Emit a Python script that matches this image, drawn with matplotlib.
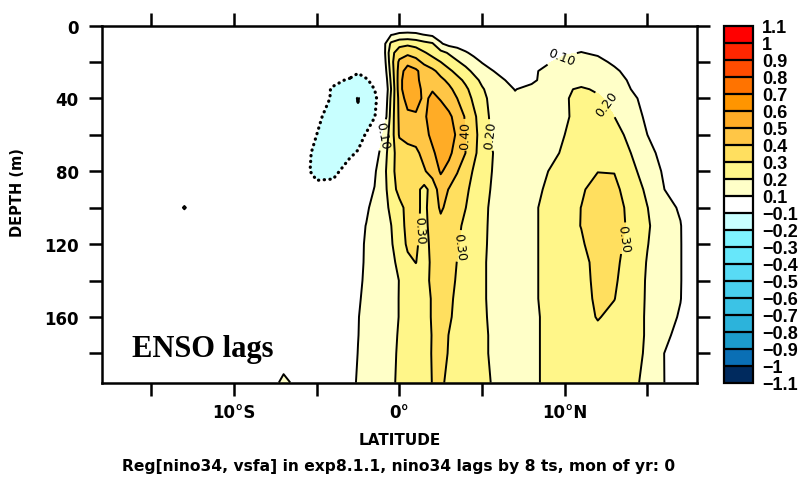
import matplotlib
matplotlib.use("Agg")
import matplotlib.pyplot as plt
import numpy as np

# grid: latitude columns (deg, S negative) and depth rows (m)
lat_west = [-18, -17, -16, -15, -14, -13, -12, -11, -10, -9, -8, -7, -6, -5, -4]
lat_core = [-3, -2.5, -2, -1.5, -1, -0.5, 0, 0.5, 1, 1.5, 2, 2.5, 3, 3.5, 4, 4.5, 5, 5.5, 6]
lat_east = [7, 8, 9, 10, 11, 12, 13, 14, 15, 16, 17, 18]
depths = [0, 5, 10, 15, 20, 25, 30, 35, 40, 50, 60, 70, 80, 90, 100,
          110, 120, 130, 140, 150, 160, 170, 180, 196]

# regression coefficients, one row per depth
reg_west = [
    [0, 0, 0, 0, 0, 0, 0, 0, 0, 0, 0, 0, 0, 0, 0],
    [0, 0, 0, 0, 0, 0, 0, 0, 0, 0, 0, 0, 0, 0, 0],
    [0, 0, 0, 0, 0, 0, 0, 0, 0, 0, 0, 0, 0, 0, 0],
    [0, 0, 0, 0, 0, 0, 0, 0, 0, 0, 0, 0, 0, 0, 0],
    [0, 0, 0, 0, 0, 0, 0, 0, 0, 0, 0, 0, 0, 0, -0.01],
    [0, 0, 0, 0, 0, 0, 0, 0, 0, 0, 0, 0, 0, -0.01, -0.03],
    [0, 0, 0, 0, 0, 0, 0, 0, 0, 0, 0, 0, -0.01, -0.03, -0.08],
    [0, 0, 0, 0, 0, 0, 0, 0, 0, 0, 0, 0, -0.02, -0.05, -0.11],
    [0, 0, 0, 0, 0, 0, 0, 0, 0, 0, 0, 0, -0.02, -0.06, -0.11],
    [0, 0, 0, 0, 0, 0, 0, 0, 0, 0, 0, -0.01, -0.03, -0.08, -0.14],
    [0, 0, 0, 0, 0, 0, 0, 0, 0, 0, 0, -0.01, -0.04, -0.10, -0.16],
    [0, 0, 0, 0, 0, 0, 0, 0, 0, 0, 0, -0.02, -0.06, -0.12, -0.15],
    [0, 0, 0, 0, 0, 0, 0, 0, 0, 0, 0, -0.02, -0.07, -0.12, -0.13],
    [0, 0, 0, 0, 0, 0, 0, 0, 0, 0, 0, -0.01, -0.04, -0.08, -0.06],
    [0, 0, 0, 0, 0, 0.11, 0, 0, 0, 0, 0, 0, -0.02, -0.03, -0.02],
    [0, 0, 0, 0, 0, 0, 0, 0, 0, 0, 0, 0, 0, 0, 0.01],
    [0, 0, 0, 0, 0, 0, 0, 0, 0, 0, 0, 0, 0, 0.01, 0.02],
    [0, 0, 0, 0, 0, 0, 0, 0, 0, 0, 0, 0, 0, 0.01, 0.03],
    [0, 0, 0, 0, 0, 0, 0, 0, 0, 0, 0, 0, 0, 0.01, 0.03],
    [0, 0, 0, 0, 0, 0, 0, 0, 0, 0, 0, 0, 0, 0.01, 0.03],
    [0, 0, 0, 0, 0, 0, 0, 0, 0, 0, 0, 0, 0, 0.015, 0.035],
    [0, 0, 0, 0, 0, 0, 0, 0, 0, 0, 0, 0, 0, 0.015, 0.035],
    [0, 0, 0, 0, 0, 0, 0, 0, 0, 0, 0, 0, 0, 0.015, 0.035],
    [0, 0, 0, 0, 0, 0, 0, 0, 0, 0, 0, 0.14, 0.04, 0.02, 0.04],
]
reg_core = [
    [0, 0, 0, 0, 0.01, 0.02, 0.03, 0.03, 0.03, 0.03, 0.02, 0.02, 0.02, 0.02, 0.02, 0.01, 0.01, 0.01, 0.01],
    [0, 0, 0.01, 0.02, 0.05, 0.095, 0.115, 0.12, 0.115, 0.098, 0.08, 0.06, 0.05, 0.04, 0.04, 0.03, 0.03, 0.03, 0.03],
    [0, 0.01, 0.02, 0.03, 0.05, 0.22, 0.27, 0.28, 0.26, 0.23, 0.21, 0.11, 0.07, 0.06, 0.05, 0.05, 0.04, 0.04, 0.04],
    [0, 0.01, 0.02, 0.03, 0.036, 0.27, 0.35, 0.38, 0.36, 0.31, 0.27, 0.23, 0.19, 0.15, 0.11, 0.08, 0.06, 0.05, 0.05],
    [-0.02, -0.03, -0.02, 0, 0.02, 0.26, 0.42, 0.46, 0.43, 0.38, 0.34, 0.3, 0.25, 0.21, 0.17, 0.13, 0.095, 0.07, 0.06],
    [-0.06, -0.09, -0.06, -0.03, 0, 0.24, 0.44, 0.56, 0.52, 0.45, 0.42, 0.37, 0.32, 0.27, 0.23, 0.18, 0.14, 0.11, 0.085],
    [-0.11, -0.13, -0.11, -0.07, -0.03, 0.22, 0.45, 0.6, 0.53, 0.45, 0.45, 0.42, 0.38, 0.33, 0.28, 0.23, 0.18, 0.15, 0.12],
    [-0.15, -0.16, -0.14, -0.1, -0.05, 0.2, 0.45, 0.6, 0.56, 0.46, 0.49, 0.46, 0.42, 0.37, 0.32, 0.26, 0.21, 0.17, 0.13],
    [-0.17, -0.203, -0.16, -0.12, -0.04, 0.22, 0.43, 0.55, 0.56, 0.47, 0.53, 0.49, 0.45, 0.4, 0.35, 0.28, 0.23, 0.18, 0.15],
    [-0.18, -0.19, -0.17, -0.105, -0.01, 0.24, 0.42, 0.47, 0.48, 0.48, 0.56, 0.57, 0.52, 0.46, 0.39, 0.32, 0.25, 0.19, 0.16],
    [-0.17, -0.15, -0.09, -0.02, 0.1, 0.25, 0.41, 0.43, 0.44, 0.46, 0.53, 0.58, 0.56, 0.48, 0.4, 0.33, 0.26, 0.2, 0.17],
    [-0.12, -0.09, -0.03, 0.05, 0.14, 0.26, 0.35, 0.37, 0.38, 0.43, 0.48, 0.55, 0.52, 0.46, 0.4, 0.32, 0.26, 0.21, 0.18],
    [-0.05, -0.01, 0.04, 0.09, 0.15, 0.28, 0.33, 0.35, 0.36, 0.39, 0.44, 0.51, 0.47, 0.405, 0.35, 0.29, 0.25, 0.205, 0.18],
    [0, 0.04, 0.08, 0.102, 0.14, 0.27, 0.32, 0.34, 0.33, 0.27, 0.34, 0.45, 0.395, 0.36, 0.32, 0.27, 0.23, 0.2, 0.18],
    [0.04, 0.07, 0.09, 0.12, 0.16, 0.22, 0.28, 0.32, 0.33, 0.27, 0.36, 0.41, 0.38, 0.34, 0.302, 0.26, 0.23, 0.19, 0.17],
    [0.06, 0.08, 0.102, 0.13, 0.16, 0.198, 0.27, 0.32, 0.325, 0.27, 0.34, 0.38, 0.36, 0.32, 0.28, 0.25, 0.22, 0.19, 0.17],
    [0.07, 0.09, 0.104, 0.13, 0.16, 0.19, 0.25, 0.315, 0.315, 0.26, 0.33, 0.36, 0.34, 0.31, 0.27, 0.24, 0.215, 0.19, 0.17],
    [0.07, 0.09, 0.105, 0.13, 0.15, 0.18, 0.22, 0.28, 0.302, 0.26, 0.32, 0.35, 0.33, 0.298, 0.27, 0.24, 0.21, 0.19, 0.17],
    [0.07, 0.093, 0.106, 0.12, 0.14, 0.17, 0.202, 0.24, 0.26, 0.27, 0.32, 0.34, 0.33, 0.29, 0.26, 0.24, 0.21, 0.19, 0.17],
    [0.075, 0.095, 0.11, 0.12, 0.14, 0.17, 0.203, 0.22, 0.24, 0.26, 0.31, 0.34, 0.32, 0.28, 0.26, 0.24, 0.21, 0.19, 0.17],
    [0.08, 0.098, 0.115, 0.125, 0.14, 0.17, 0.203, 0.22, 0.24, 0.26, 0.31, 0.34, 0.31, 0.28, 0.26, 0.24, 0.215, 0.19, 0.17],
    [0.08, 0.099, 0.115, 0.125, 0.14, 0.17, 0.21, 0.22, 0.24, 0.26, 0.305, 0.33, 0.298, 0.28, 0.26, 0.24, 0.215, 0.195, 0.17],
    [0.08, 0.101, 0.115, 0.13, 0.145, 0.175, 0.215, 0.23, 0.25, 0.27, 0.305, 0.325, 0.295, 0.275, 0.255, 0.235, 0.215, 0.195, 0.17],
    [0.085, 0.105, 0.12, 0.13, 0.15, 0.18, 0.22, 0.235, 0.255, 0.275, 0.302, 0.315, 0.28, 0.27, 0.255, 0.24, 0.22, 0.201, 0.18],
]
reg_east = [
    [0.01, 0.02, 0.02, 0.03, 0.03, 0.03, 0.02, 0.01, 0.01, 0, 0, 0],
    [0.03, 0.04, 0.05, 0.06, 0.07, 0.06, 0.05, 0.04, 0.02, 0.01, 0, 0],
    [0.04, 0.05, 0.07, 0.075, 0.08, 0.075, 0.07, 0.05, 0.03, 0.02, 0.01, 0],
    [0.05, 0.06, 0.08, 0.092, 0.102, 0.092, 0.08, 0.06, 0.04, 0.02, 0.01, 0],
    [0.06, 0.07, 0.095, 0.12, 0.13, 0.115, 0.09, 0.07, 0.05, 0.03, 0.01, 0],
    [0.075, 0.09, 0.115, 0.14, 0.15, 0.14, 0.11, 0.08, 0.06, 0.04, 0.02, 0],
    [0.07, 0.085, 0.13, 0.16, 0.17, 0.16, 0.13, 0.09, 0.07, 0.05, 0.02, 0],
    [0.098, 0.12, 0.16, 0.19, 0.21, 0.19, 0.16, 0.1, 0.08, 0.06, 0.03, 0],
    [0.11, 0.13, 0.17, 0.19, 0.23, 0.21, 0.18, 0.12, 0.07, 0.05, 0.02, 0],
    [0.12, 0.14, 0.16, 0.18, 0.25, 0.24, 0.2, 0.15, 0.08, 0.05, 0.02, 0],
    [0.13, 0.15, 0.17, 0.2, 0.26, 0.27, 0.24, 0.17, 0.1, 0.06, 0.02, 0],
    [0.13, 0.15, 0.18, 0.21, 0.27, 0.28, 0.26, 0.2, 0.13, 0.07, 0.02, 0],
    [0.13, 0.15, 0.2, 0.22, 0.27, 0.298, 0.297, 0.23, 0.15, 0.09, 0.03, 0],
    [0.14, 0.16, 0.22, 0.25, 0.29, 0.33, 0.32, 0.26, 0.18, 0.102, 0.04, 0],
    [0.14, 0.18, 0.23, 0.27, 0.301, 0.34, 0.33, 0.28, 0.202, 0.13, 0.09, 0],
    [0.14, 0.18, 0.23, 0.27, 0.302, 0.35, 0.34, 0.28, 0.21, 0.15, 0.104, 0.01],
    [0.14, 0.18, 0.23, 0.27, 0.29, 0.34, 0.33, 0.27, 0.203, 0.15, 0.105, 0.01],
    [0.14, 0.18, 0.23, 0.26, 0.28, 0.32, 0.32, 0.26, 0.195, 0.15, 0.105, 0.01],
    [0.14, 0.18, 0.23, 0.26, 0.28, 0.315, 0.31, 0.26, 0.19, 0.15, 0.105, 0.01],
    [0.14, 0.18, 0.23, 0.26, 0.28, 0.31, 0.302, 0.25, 0.19, 0.15, 0.103, 0.01],
    [0.14, 0.18, 0.22, 0.25, 0.27, 0.305, 0.28, 0.24, 0.19, 0.14, 0.09, 0.01],
    [0.14, 0.18, 0.22, 0.25, 0.27, 0.28, 0.27, 0.24, 0.19, 0.13, 0.06, 0],
    [0.14, 0.18, 0.22, 0.25, 0.27, 0.28, 0.27, 0.24, 0.185, 0.101, 0.03, 0],
    [0.14, 0.18, 0.22, 0.24, 0.26, 0.27, 0.26, 0.23, 0.17, 0.102, 0.03, 0],
]

levels = [-1.1, -1.0, -0.9, -0.8, -0.7, -0.6, -0.5, -0.4, -0.3, -0.2, -0.1,
          0.1, 0.2, 0.3, 0.4, 0.5, 0.6, 0.7, 0.8, 0.9, 1.0, 1.1]
fill_colors = ["#002a5e", "#0a6fb5", "#1c9ccb", "#2cb3db", "#3bc3e6", "#49cfee",
               "#58dbf5", "#67e7fa", "#7ff4ff", "#c8ffff", "#ffffff",
               "#ffffc8", "#fff689", "#ffdf5f", "#ffc646", "#ffac26",
               "#ff9500", "#ff7300", "#ff4c00", "#ff2600", "#ff0000"]
cbar_labels = ["\u22121.1", "\u22121", "\u22120.9", "\u22120.8", "\u22120.7", "\u22120.6",
               "\u22120.5", "\u22120.4", "\u22120.3", "\u22120.2", "\u22120.1",
               "0.1", "0.2", "0.3", "0.4", "0.5", "0.6", "0.7", "0.8", "0.9", "1", "1.1"]
line_levels = [0.1, 0.2, 0.3, 0.4, 0.5]
label_spots = [(-1.05, 60), (9.9, 19), (5.6, 60), (12.5, 43), (4.0, 60),
               (1.2, 112), (3.6, 121), (13.7, 117)]
xtick_pos = [-15, -10, -5, 0, 5, 10, 15]
xtick_lab = ["", "10\u00b0S", "", "0\u00b0", "", "10\u00b0N", ""]
ytick_pos = [0, 20, 40, 60, 80, 100, 120, 140, 160, 180]
ytick_lab = ["0", "", "40", "", "80", "", "120", "", "160", ""]

lats = np.array(lat_west + lat_core + lat_east, dtype=float)
Z = np.hstack([np.array(reg_west), np.array(reg_core), np.array(reg_east)])

W, H = 805, 485
fig = plt.figure(figsize=(W / 100, H / 100), dpi=100)
ax = fig.add_axes([101.7 / W, 1 - 383.5 / H, 595.3 / W, 357 / H])
cax = fig.add_axes([724 / W, 1 - 383.5 / H, 29 / W, 357 / H])

cf = ax.contourf(lats, depths, Z, levels=levels, colors=fill_colors)
cs = ax.contour(lats, depths, Z, levels=line_levels, colors="black", linewidths=1.4)
cneg = ax.contour(lats, depths, Z, levels=[-0.1], colors="black", linewidths=2.3,
                  linestyles=[(0, (0.1, 1.7))])
cneg.set_capstyle("round")
ax.contour(lats, depths, Z, levels=[-0.2], colors="black", linewidths=2.0)
ax.clabel(cs, fmt="%.2f", fontsize=9, inline=True, inline_spacing=2, manual=label_spots)

ax.set_xlim(-18, 18)
ax.set_ylim(196, 0)
ax.set_xticks(xtick_pos)
ax.set_xticklabels(xtick_lab)
ax.set_yticks(ytick_pos)
ax.set_yticklabels(ytick_lab)
ax.tick_params(direction="out", length=9.5, width=1.8, top=True, right=True,
               labelsize=12)
ax.tick_params(axis="x", pad=5)
ax.tick_params(axis="y", pad=7)
for t in ax.get_xticklabels() + ax.get_yticklabels():
    t.set_fontweight("bold")
for s in ax.spines.values():
    s.set_linewidth(1.8)

ax.set_xlabel("LATITUDE", fontsize=11, fontweight="bold", va="center")
ax.xaxis.set_label_coords((400 - 101.7) / 595.3, (383.5 - 441) / 357)
ax.set_ylabel("DEPTH (m)", fontsize=10.5, fontweight="bold", va="center")
ax.yaxis.set_label_coords((17.5 - 101.7) / 595.3, (383.5 - 193) / 357)

ax.text(0.051, 0.074, "ENSO lags", transform=ax.transAxes, fontsize=22,
        fontweight="bold", family="Liberation Serif", va="baseline")
fig.text(399 / W, 1 - 467 / H,
         "Reg[nino34, vsfa] in exp8.1.1, nino34 lags by 8 ts, mon of yr: 0",
         ha="center", va="center", fontsize=11.2, fontweight="bold")

cb = fig.colorbar(cf, cax=cax, ticks=levels, drawedges=True)
cb.ax.set_yticklabels(cbar_labels)
cb.ax.tick_params(length=0, pad=6.5, labelsize=13)
for t in cb.ax.get_yticklabels():
    t.set_fontfamily("Liberation Sans")
    t.set_fontweight("bold")
cb.outline.set_linewidth(1.6)
cb.dividers.set_linewidth(1.6)

fig.savefig("out.png", dpi=100)
